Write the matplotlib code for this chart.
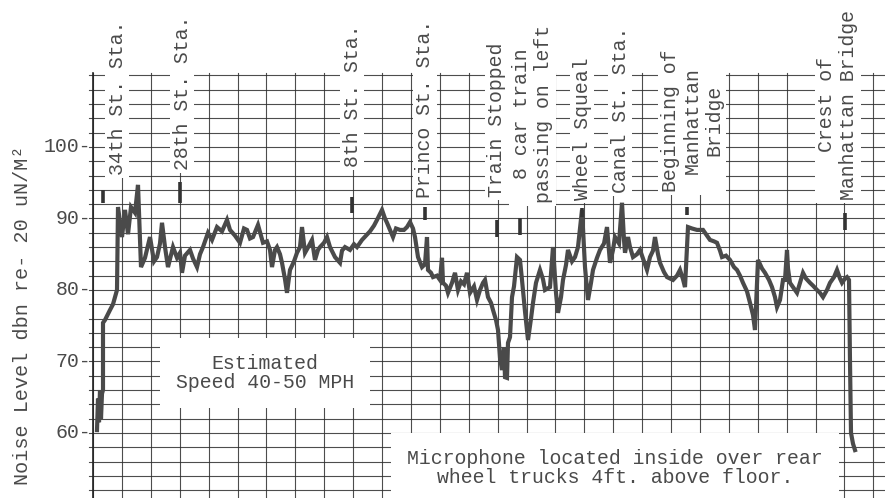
import matplotlib
matplotlib.use("Agg")
import matplotlib.pyplot as plt
import numpy as np

# recorder trace: position along the chart paper and noise level (dB)
chart_pos = [4, 5, 6, 7, 8, 9, 10, 10, 12, 17, 20, 24, 25, 27, 29, 32, 35, 38, 42, 45,
             46, 48, 52, 57, 61, 64, 67, 69, 72, 75, 80, 84, 87, 89, 92, 97, 100, 104, 107, 110,
             115, 119, 124, 129, 134, 137, 142, 147, 151, 154, 157, 160, 165, 170, 174, 177, 179, 182, 184, 187,
             189, 192, 194, 197, 201, 204, 207, 209, 212, 216, 219, 222, 225, 227, 231, 234, 237, 242, 247, 249,
             252, 257, 261, 264, 269, 273, 277, 281, 284, 289, 292, 294, 297, 300, 303, 307, 311, 314, 317, 320,
             322, 325, 329, 332, 334, 335, 338, 340, 344, 347, 349, 350, 353, 355, 359, 362, 365, 368, 371, 374,
             377, 381, 384, 387, 390, 392, 395, 398, 400, 403, 405, 407, 409, 411, 412, 414, 415, 417, 419, 421,
             424, 427, 429, 432, 435, 438, 440, 443, 447, 450, 452, 457, 460, 463, 465, 468, 470, 473, 475, 479,
             482, 485, 489, 491, 492, 495, 498, 500, 504, 507, 511, 514, 517, 520, 522, 526, 529, 531, 532, 535,
             537, 540, 544, 547, 551, 554, 557, 560, 562, 565, 567, 571, 574, 577, 580, 584, 587, 590, 592, 595,
             599, 604, 610, 614, 617, 621, 624, 627, 629, 633, 637, 641, 644, 647, 650, 654, 657, 660, 662, 665,
             669, 672, 676, 679, 682, 684, 687, 690, 692, 694, 695, 697, 701, 704, 707, 710, 713, 717, 720, 724,
             727, 730, 734, 737, 741, 744, 747, 749, 752, 754, 756, 757, 758, 760, 762]
level_db = [60.4, 64.8, 61.5, 66, 62, 65.5, 66, 75.4, 75.8, 77.2, 78, 80, 91.6, 89.5, 87.4, 91.2, 87.8, 91.6, 90.8, 94.7,
            90.8, 83.2, 84.5, 87.4, 84, 84.6, 86.5, 89.4, 86, 83.2, 86, 84.5, 85.2, 82.4, 84.8, 85.6, 84.4, 83.2, 85, 86,
            88, 87, 88.8, 88.2, 89.8, 88.4, 87.6, 86.6, 88.6, 88.4, 87.2, 87.4, 89.1, 86.6, 86.8, 85.6, 83.2, 85.6, 86, 85,
            83.8, 81.5, 79.6, 82.8, 84, 85.2, 86, 88.8, 85.2, 86.2, 87, 84.2, 85.6, 86, 86.6, 87.4, 86, 84.6, 83.8, 85.5,
            86, 85.6, 86.4, 86, 87, 87.6, 88.2, 89, 89.8, 91.2, 90, 89.4, 88.4, 87.4, 88.6, 88.4, 88.4, 88.8, 89.5, 88.6,
            87.4, 84.6, 83.2, 83.6, 87.4, 82.8, 82.4, 81.8, 82, 81.4, 84.5, 81, 80.6, 79.6, 81, 82.4, 80, 81.2, 80.8, 82.4,
            79.6, 80.5, 78.6, 80, 81, 81.4, 79, 78.2, 77.2, 75.8, 74.4, 70.5, 68.8, 72, 67.8, 67.7, 72.6, 73.4, 79, 80.5,
            84.6, 84.2, 81.4, 77, 73, 76, 78.2, 81, 82.8, 81.5, 80, 80.4, 86, 79.6, 76.8, 79, 81.4, 83.5, 85.6, 84,
            84.6, 86, 91.2, 86, 83.2, 78.6, 81, 82.8, 84.5, 85.6, 86.5, 88.8, 83.8, 85.6, 87.4, 86.5, 92.2, 87, 85.2, 87.4,
            86, 84.6, 85, 85.6, 84, 82.8, 84.6, 85.5, 87.4, 85, 83.8, 82.5, 81.8, 81.6, 81.4, 82, 82.8, 81.5, 80.4, 88.8,
            88.6, 88.4, 88.4, 87.6, 87, 86.8, 86.6, 85.5, 84.6, 84.8, 84.2, 83.2, 82.8, 82, 81, 79.8, 78.2, 76.5, 74.4, 84.2,
            83, 82.4, 81.4, 80.4, 79, 77.6, 78.6, 81.4, 81.4, 85.6, 83, 81, 80.2, 79.6, 81, 82.4, 81.6, 81, 80.6, 80,
            79.6, 79, 80, 81, 81.8, 82.8, 81.6, 81, 81.6, 81.8, 81.4, 70, 60, 58.5, 57.6]

y_ticks = [60, 70, 80, 90, 100]
y_tick_labels = ["60-", "70-", "80-", "90-", "100-"]

# event notes written on the chart
event_labels = ["34th St. Sta.", "28th St. Sta.", "8th St. Sta.", "Princo St. Sta.",
                "Train Stopped", "8 car train\npassing on left", "Wheel Squeal",
                "Canal St. Sta.", "Beginning of\nManhattan\nBridge", "Crest of\nManhattan Bridge"]
event_label_pos = [24, 89, 259, 332, 404, 439.5, 489, 527, 599, 745]
event_label_base = [96.1, 96.8, 97.2, 92.9, 93.0, 92.2, 92.6, 93.6, 93.7, 92.6]

# event pips drawn by the marker pen
event_mark_pos = [10, 87, 259, 332, 404, 427, 489, 594, 752]
event_mark_top = [94.0, 95.1, 93.0, 91.6, 89.8, 90.1, 91.5, 91.6, 90.8]
event_mark_bottom = [92.2, 92.2, 90.8, 89.8, 87.4, 87.7, 90.2, 90.5, 88.4]

ylabel = "Noise Level dbn re- 20 uN/M²"
speed_note = "Estimated\nSpeed 40-50 MPH"
mic_note = "Microphone located inside over rear\nwheel trucks 4ft. above floor."

plt.rcParams['font.family'] = ['Liberation Mono', 'DejaVu Sans Mono']
ink = '#4a4a4a'
grid_col = '#2e2e2e'
fs = 14.3

fig = plt.figure(figsize=(8.85, 4.98), dpi=100)
ax = fig.add_axes([0, 0, 1, 1])
ax.set_xlim(-93, 792)
ax.set_ylim(50.9, 120.56)
ax.axis('off')

# chart paper grid: 2 dB rows, fixed columns
div = 28.9
for v in np.arange(52, 111, 2):
    ax.plot([-4, 792], [v, v], color=grid_col, lw=0.8, alpha=0.85, zorder=1)
for k in range(28):
    ax.plot([k * div, k * div], [50.9, 110.4], color=grid_col, lw=0.8, alpha=0.85, zorder=1)
ax.plot([0, 0], [50.9, 110.4], color='#222222', lw=1.2, zorder=1)

# trace
ax.plot(chart_pos, level_db, color=ink, lw=3.0, solid_joinstyle='miter', zorder=3)

# event pips
ax.vlines(event_mark_pos, event_mark_bottom, event_mark_top, color='#333333', lw=2.6, zorder=3)

for t, v in zip(y_tick_labels, y_ticks):
    ax.text(-2, v, t, ha='right', va='center', fontsize=fs, color=ink, zorder=4)

ax.text(-71, 76.5, ylabel, rotation=90, ha='center', va='center', fontsize=14.5, color=ink)

for lab, x, b in zip(event_labels, event_label_pos, event_label_base):
    ax.text(x, b, lab, rotation=90, ha='center', va='bottom', multialignment='center',
            fontsize=fs, color=ink, linespacing=1.2, zorder=4,
            bbox=dict(boxstyle='square,pad=0.15', fc='white', ec='none'))

ax.text(172, 68.4, speed_note, ha='center', va='center', multialignment='center',
        fontsize=fs, color=ink, linespacing=1.0, zorder=4,
        bbox=dict(boxstyle='square,pad=0.8', fc='white', ec='none'))
ax.text(522, 55.1, mic_note, ha='center', va='center', multialignment='center',
        fontsize=fs, color=ink, linespacing=1.0, zorder=4,
        bbox=dict(boxstyle='square,pad=0.8', fc='white', ec='none'))

fig.savefig('out.png', dpi=100)
